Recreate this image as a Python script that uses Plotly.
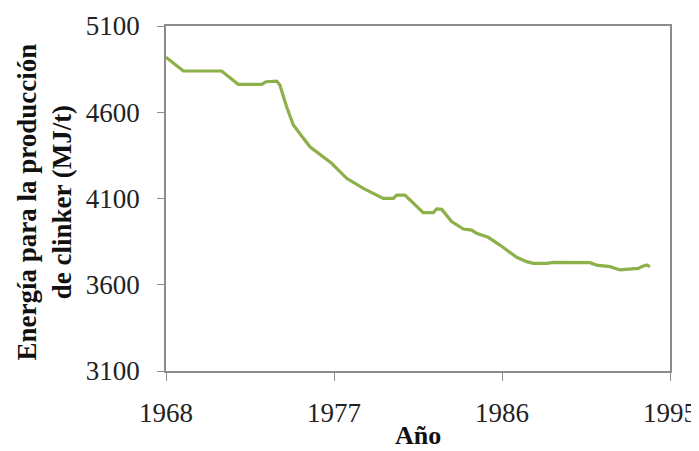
import plotly.graph_objects as go

years = [1968.0, 1968.93, 1970.98, 1971.87, 1973.13, 1973.36, 1973.93, 1974.1, 1974.46,
         1974.82, 1975.71, 1976.87, 1977.68, 1978.57, 1979.64, 1980.18, 1980.36, 1980.8,
         1981.78, 1982.32, 1982.5, 1982.77, 1983.3, 1983.93, 1984.37, 1984.64, 1985.26,
         1985.89, 1986.79, 1987.32, 1987.68, 1988.39, 1988.75, 1990.71, 1991.07, 1991.43,
         1991.79, 1992.32, 1992.86, 1993.3, 1993.48, 1993.75, 1993.93]
energy = [4919, 4839, 4839, 4762, 4762, 4777, 4781, 4758, 4632,
          4526, 4400, 4304, 4217, 4159, 4101, 4101, 4120, 4120,
          4018, 4018, 4039, 4037, 3966, 3923, 3917, 3898, 3875,
          3830, 3759, 3734, 3724, 3724, 3730, 3728, 3714, 3709,
          3705, 3686, 3690, 3695, 3705, 3714, 3705]

x_ticks = [1968, 1977, 1986, 1995]
y_ticks = [3100, 3600, 4100, 4600, 5100]

x_title = "Año"
y_title = "Energía para la producción<br>de clinker (MJ/t)"

serif = "Liberation Serif"
axis_color = "#8c8c8c"

fig = go.Figure()
fig.add_trace(go.Scatter(x=years, y=energy, mode="lines",
                         line=dict(color="#8db04a", width=3.2),
                         showlegend=False))

fig.update_layout(
    width=691, height=443,
    margin=dict(l=158, r=29, t=18, b=80),
    paper_bgcolor="white", plot_bgcolor="white",
    font=dict(family=serif, color="#222222"),
    xaxis=dict(range=[1968, 1995], tickvals=x_ticks, ticktext=[str(v) for v in x_ticks],
               automargin=False,
               showgrid=False, zeroline=False, showline=True, linecolor=axis_color,
               linewidth=1.5, mirror=True, ticks="outside", ticklen=8, tickcolor=axis_color,
               tickfont=dict(family=serif, size=27, color="#222222"),
               ticklabelstandoff=9),
    yaxis=dict(range=[3100, 5100], tickvals=y_ticks, ticktext=[str(v) for v in y_ticks],
               automargin=False,
               showgrid=False, zeroline=False, showline=True, linecolor=axis_color,
               linewidth=1.5, mirror=True, ticks="outside", ticklen=7, tickcolor=axis_color,
               tickfont=dict(family=serif, size=27, color="#222222"),
               ticklabelstandoff=12),
    annotations=[
        dict(text="<b>" + x_title + "</b>", xref="paper", yref="paper", x=0.5, y=0,
             xanchor="center", yanchor="middle", yshift=-64, xshift=0, showarrow=False,
             font=dict(family=serif, size=26, color="#111111")),
        dict(text="<b>" + y_title + "</b>", xref="paper", yref="paper", x=0, y=0.5,
             xanchor="center", yanchor="middle", xshift=-122, yshift=-4, textangle=-90,
             showarrow=False, font=dict(family=serif, size=27, color="#111111")),
    ],
)

fig.write_html("out.html")
